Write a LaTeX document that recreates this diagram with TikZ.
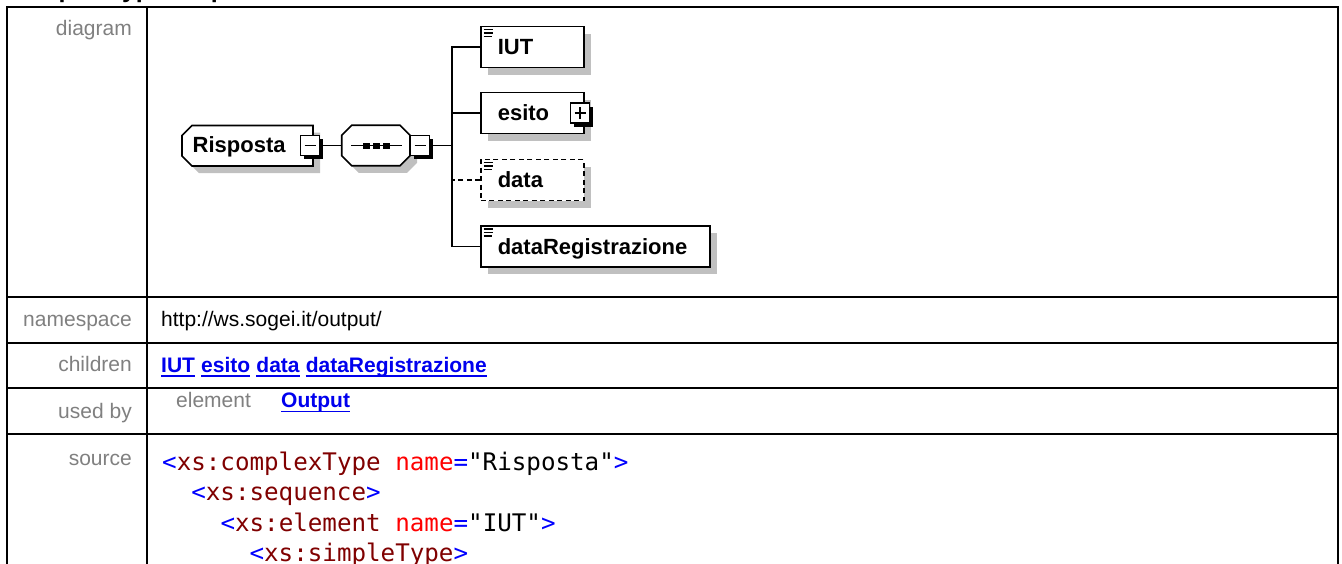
\documentclass[tikz,border=0pt]{standalone}
\usepackage{fontspec}
\setmainfont{Liberation Sans}
\setmonofont{DejaVu Sans Mono}
\usetikzlibrary{shadows,backgrounds}
\definecolor{lblgray}{HTML}{808080}
\definecolor{shadowgray}{HTML}{C0C0C0}
\definecolor{linkblue}{HTML}{0000EE}
\definecolor{xmlblue}{HTML}{0000FF}
\definecolor{xmlmaroon}{HTML}{800000}
\definecolor{xmlred}{HTML}{FF0000}
\newcommand{\xblue}[1]{\textcolor{xmlblue}{#1}}
\newcommand{\xmaroon}[1]{\textcolor{xmlmaroon}{#1}}
\newcommand{\xredc}[1]{\textcolor{xmlred}{#1}}
\begin{document}
\begin{tikzpicture}[x=1pt,y=-1pt,
  tableline/.style={line width=2pt, line cap=rect},
  lbl/.style={anchor=base east, inner sep=0pt, text=lblgray, font=\fontsize{21}{25}\selectfont},
  val/.style={anchor=base west, inner sep=0pt, font=\fontsize{21}{25}\selectfont},
  lnk/.style={anchor=base west, inner sep=0pt, text=linkblue, font=\fontsize{21}{25}\selectfont\bfseries},
  lnkline/.style={draw=linkblue, line width=1.8pt},
  codeline/.style={anchor=base west, inner sep=0pt, font=\fontsize{24.2}{30}\selectfont\ttfamily},
  shapeline/.style={line width=1.6pt},
  greyshadow/.style={drop shadow={shadow xshift=7pt, shadow yshift=-7pt, fill=shadowgray, opacity=1}},
  childbox/.style={shapeline, draw, fill=white, greyshadow, anchor=west, minimum height=41pt, inner xsep=17pt, inner ysep=0pt, align=left, text height=15.6pt, text depth=0pt, font=\fontsize{22}{26}\selectfont\bfseries},
  togglebox/.style={draw, fill=white, line width=1.6pt, minimum width=19pt, minimum height=20pt, inner sep=0pt, drop shadow={shadow xshift=3.5pt, shadow yshift=-3.5pt, fill=black, opacity=1}},
  togglemark/.style={line width=1.7pt},
  conn/.style={line width=1.6pt},
  dashconn/.style={line width=1.6pt, dash pattern=on 5pt off 3.5pt},
  iconline/.style={line width=1.5pt},
  diagtext/.style={anchor=base west, inner sep=0pt, font=\fontsize{22}{26}\selectfont\bfseries},
]
\useasboundingbox (0,0) rectangle (1342,563);
\begin{pgfonlayer}{background}
  \fill[white] (0,0) rectangle (1342,563);
\end{pgfonlayer}
\clip (0,0) rectangle (1342,563);

% cut-off heading
\node[anchor=base west, inner sep=0pt, font=\fontsize{25}{30}\selectfont\bfseries] (hdr) at (7,-2.5) {complexType Risposta};

% table
\draw[tableline] (7,6.5) -- (1338,6.5);
\draw[tableline] (7,6.5) -- (7,575);
\draw[tableline] (147,6.5) -- (147,575);
\draw[tableline] (1338,6.5) -- (1338,575);
\foreach \yy in {297,342.5,388,434} \draw[tableline] (7,\yy) -- (1338,\yy);

% ---- diagram ----
% Risposta
\draw[shapeline, fill=white, greyshadow] (192,125.5) -- (313,125.5) -- (313,166) -- (192,166) -- (182,156) -- (182,135.5) -- cycle;
\node[diagtext] (risposta) at (192.5,152.5) {Risposta};
\node[togglebox] (rspminus) at (310,145.5) {};
\draw[togglemark] ([xshift=-5.5pt]rspminus.center) -- ([xshift=5.5pt]rspminus.center);

% sequence compositor
\node[minimum width=68.3pt, minimum height=40.5pt, inner sep=0pt, outer sep=0pt] (seq) at (375.85,145.5) {};
\draw[shapeline, fill=white, greyshadow] ([xshift=10pt]seq.north west) -- ([xshift=-10pt]seq.north east) -- ([yshift=-10pt]seq.north east) -- ([yshift=10pt]seq.south east) -- ([xshift=-10pt]seq.south east) -- ([xshift=10pt]seq.south west) -- ([yshift=10pt]seq.south west) -- ([yshift=-10pt]seq.north west) -- cycle;
\draw[line width=1.7pt] ([xshift=-24.5pt]seq.center) -- ([xshift=26pt]seq.center);
\fill (363,142.5) rectangle (370,148.8);
\fill (373,142.5) rectangle (380,148.8);
\fill (383,142.5) rectangle (390,148.8);
\node[togglebox] (seqminus) at (420,145.5) {};
\draw[togglemark] ([xshift=-5.5pt]seqminus.center) -- ([xshift=5.5pt]seqminus.center);

% children
\node[childbox, text width=69pt] (iut) at (480,47) {IUT};
\node[childbox, text width=69pt] (esito) at (480,113) {esito};
\node[togglebox] (esitoplus) at (580,113) {};
\draw[togglemark] ([xshift=-5.5pt]esitoplus.center) -- ([xshift=5.5pt]esitoplus.center);
\draw[togglemark] ([yshift=-6pt]esitoplus.center) -- ([yshift=6pt]esitoplus.center);
\node[childbox, text width=69pt, dash pattern=on 5pt off 3.5pt] (data) at (480,180) {data};
\node[childbox, text width=195pt] (datareg) at (480,246.5) {dataRegistrazione};
\foreach \n in {iut,data,datareg} {
  \draw[iconline] ([shift={(3.5,4)}]\n.north west) -- ++(9,0)
                  ([shift={(3.5,7.5)}]\n.north west) -- ++(9,0)
                  ([shift={(3.5,11)}]\n.north west) -- ++(8,0);
}

% connectors
\begin{pgfonlayer}{background}
  \coordinate (trunk) at (452,145.5);
  \draw[conn] (rspminus.east) -- (seq.west);
  \draw[conn] (seqminus.east) -- (trunk);
  \draw[conn] (iut.west) -| (trunk);
  \draw[conn] (esito.west) -| (trunk);
  \draw[conn] (datareg.west) -| (trunk);
  \draw[dashconn] (data.west) -- (data.west -| trunk);
\end{pgfonlayer}

% ---- rows ----
\node[lbl] (ldiagram) at (132,35) {diagram};
\node[lbl] (lnamespace) at (132,326.7) {namespace};
\node[val] (nsval) at (161,326.7) {http://ws.sogei.it/output/};
\node[lbl] (lchildren) at (132,371.7) {children};
\node[lnk] (ch1) at (161,372) {IUT};
\node[lnk] (ch2) at ([xshift=5.8pt]ch1.base east) {esito};
\node[lnk] (ch3) at ([xshift=5.8pt]ch2.base east) {data};
\node[lnk] (ch4) at ([xshift=5.8pt]ch3.base east) {dataRegistrazione};
\foreach \n in {ch1,ch2,ch3,ch4}
  \draw[lnkline] ([yshift=-4pt]\n.base west) -- ([yshift=-4pt]\n.base east);
\node[lbl] (lusedby) at (132,418) {used by};
\node[val, text=lblgray] (ubelem) at (176,407.5) {element};
\node[lnk] (ubout) at (281,407.5) {Output};
\draw[lnkline] ([yshift=-4pt]ubout.base west) -- ([yshift=-4pt]ubout.base east);
\node[lbl] (lsource) at (132,465) {source};
\node[codeline] (src1) at (162,470) {\xblue{<}\xmaroon{xs:complexType} \xredc{name}\xblue{=}"Risposta"\xblue{>}};
\node[codeline] (src2) at (191.1,500.7) {\xblue{<}\xmaroon{xs:sequence}\xblue{>}};
\node[codeline] (src3) at (220.3,531) {\xblue{<}\xmaroon{xs:element} \xredc{name}\xblue{=}"IUT"\xblue{>}};
\node[codeline] (src4) at (249.4,561.3) {\xblue{<}\xmaroon{xs:simpleType}\xblue{>}};
\end{tikzpicture}
\end{document}
